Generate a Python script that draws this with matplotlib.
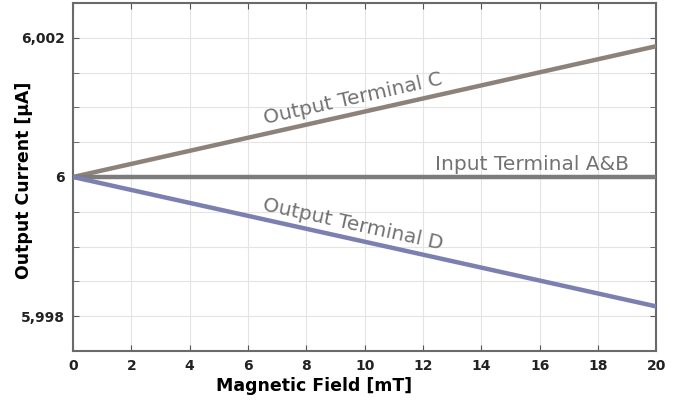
import matplotlib.pyplot as plt
from matplotlib.ticker import FuncFormatter, MultipleLocator

# Data
field_mT = [0, 20]
terminal_c = [6.0, 6.00188]
terminal_ab = [6.0, 6.0]
terminal_d = [6.0, 5.99814]

fig = plt.figure(figsize=(6.91, 4.03), dpi=100)
ax = fig.add_axes([0.1056, 0.129, 0.8444, 0.8636])

ax.plot(field_mT, terminal_c, color='#8c8279', lw=3.2, solid_capstyle='butt', zorder=3)
ax.plot(field_mT, terminal_ab, color='#7c7c7c', lw=3.2, solid_capstyle='butt', zorder=3)
ax.plot(field_mT, terminal_d, color='#7b80b0', lw=3.2, solid_capstyle='butt', zorder=3)

ax.set_xlim(0, 20)
ax.set_ylim(5.9975, 6.0025)
ax.xaxis.set_major_locator(MultipleLocator(2))
ax.yaxis.set_major_locator(MultipleLocator(0.002))
ax.yaxis.set_minor_locator(MultipleLocator(0.0005))
ax.yaxis.set_major_formatter(FuncFormatter(lambda v, p: f"{v:.3f}".rstrip('0').rstrip('.').replace('.', ',')))

ax.grid(True, which='major', axis='x', color='#e4e4e4', lw=0.8)
ax.grid(True, which='both', axis='y', color='#e4e4e4', lw=0.8)
ax.set_axisbelow(True)

for s in ax.spines.values():
    s.set_color('#6a6a6a')
    s.set_linewidth(1.5)

ax.tick_params(which='both', direction='in', length=4, color='#555555', right=True, top=True)
ax.tick_params(axis='both', labelsize=10, pad=6)
for lab in ax.get_xticklabels() + ax.get_yticklabels():
    lab.set_fontweight('bold')
    lab.set_color('#222222')

ax.set_xlabel('Magnetic Field [mT]', fontsize=12.5, fontweight='bold')
ax.xaxis.set_label_coords(0.414, -0.075)
ax.set_ylabel('Output Current [μA]', fontsize=12.5, fontweight='bold')
ax.yaxis.set_label_coords(-0.068, 0.49)

ax.text(9.6, 6.00113, 'Output Terminal C', fontsize=14.5, color='#727272',
        rotation=12.6, ha='center', va='center', rotation_mode='anchor')
ax.text(19.05, 6.0001, 'Input Terminal A&B', fontsize=14.5, color='#727272',
        ha='right', va='baseline')
ax.text(9.6, 5.99932, 'Output Terminal D', fontsize=14.5, color='#727272',
        rotation=-12.4, ha='center', va='center', rotation_mode='anchor')

fig.savefig('out.png', dpi=100)
